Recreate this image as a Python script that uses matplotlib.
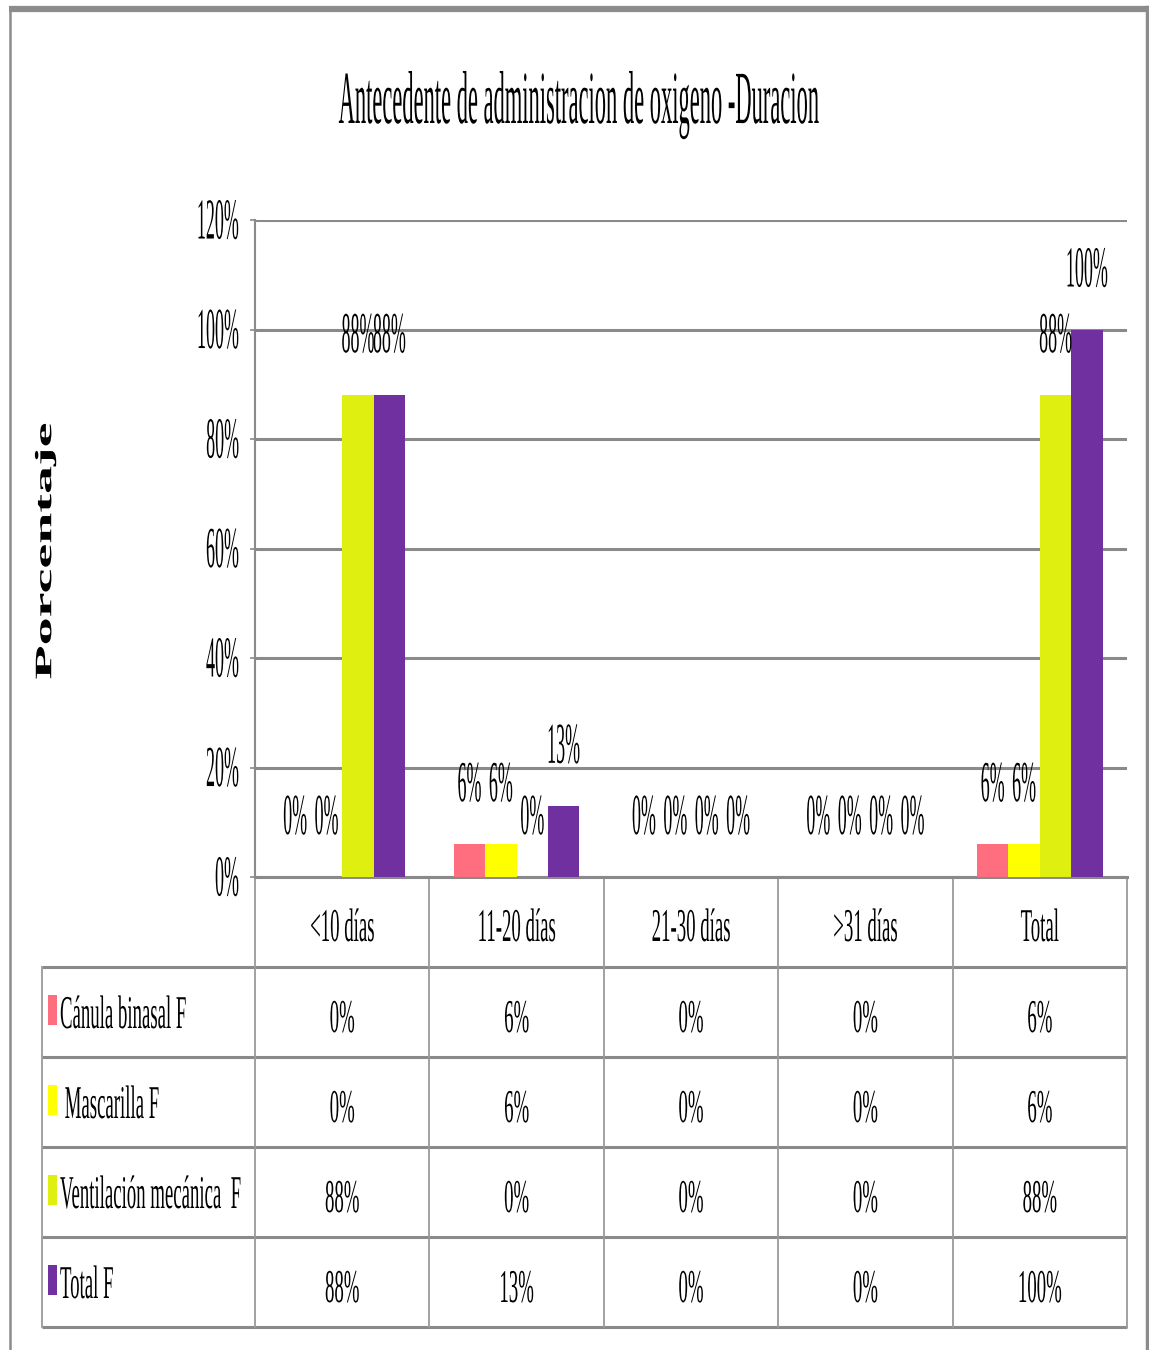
import matplotlib
matplotlib.use("Agg")
import matplotlib.pyplot as plt
from matplotlib.patheffects import AbstractPathEffect
from matplotlib.transforms import Affine2D, blended_transform_factory
from matplotlib.patches import Rectangle

# datos de la tabla / grafico
categorias = ['<10 días', '11-20 días', '21-30 días', '>31 días', 'Total']
series = ['Cánula binasal F', ' Mascarilla F', 'Ventilación mecánica  F', 'Total F']
canula = [0, 6, 0, 0, 6]
mascarilla = [0, 6, 0, 0, 6]
ventilacion = [88, 0, 0, 0, 88]
total = [88, 13, 0, 0, 100]
colores = ['#FF6E7E', '#FFFF00', '#DFEF10', '#7030A0']
y_ticks = [0, 20, 40, 60, 80, 100, 120]

valores = [canula, mascarilla, ventilacion, total]

W, H = 1149, 1350
FUENTE = 'Liberation Serif'
GRIS = '#8a8a8a'


class Stretch(AbstractPathEffect):
    """Estira el texto en vertical (letra estrecha y alta)."""

    def __init__(self, sx=1.0, sy=1.0, anchor_y='baseline', dy=0.0):
        super().__init__()
        self.sx, self.sy, self.anchor_y, self.dy = sx, sy, anchor_y, dy

    def draw_path(self, renderer, gc, tpath, affine, rgbFace=None):
        if len(tpath.vertices) == 0:
            return
        ext = tpath.get_extents()
        cx = (ext.x0 + ext.x1) / 2
        cy = 0.0 if self.anchor_y == 'baseline' else (ext.y0 + ext.y1) / 2
        t = Affine2D().translate(-cx, -cy).scale(self.sx, self.sy).translate(cx, cy)
        renderer.draw_path(gc, tpath, t + affine + Affine2D().translate(0, self.dy), rgbFace)


def px2pt(p):
    return p * 0.72


def texto_alto(em, f):
    # tamaño de letra y efecto para un texto de altura "em" px comprimido en ancho por f
    return px2pt(em * f), [Stretch(sy=1 / f)]


fig = plt.figure(figsize=(W / 100, H / 100), dpi=100)
fig.patch.set_facecolor('white')

# capa en pixeles para marco, titulo y tabla
ov = fig.add_axes([0, 0, 1, 1], zorder=-1)
ov.set_xlim(0, W)
ov.set_ylim(H, 0)
ov.axis('off')

x0, x1, y_top, y_bot = 255, 1127, 220, 877
ax = fig.add_axes([x0 / W, 1 - y_bot / H, (x1 - x0) / W, (y_bot - y_top) / H])

n = len(categorias)
ancho = 0.18
fs_lab, pe_lab = texto_alto(58, 0.31)
for i, (vals, col) in enumerate(zip(valores, colores)):
    xs = [c + (i - 1.5) * ancho for c in range(n)]
    ax.bar(xs, vals, width=ancho, color=col, zorder=3)
    for x, v in zip(xs, vals):
        ax.annotate(f"{v}%", xy=(x, v), xytext=(0, 43), textcoords='offset pixels',
                    ha='center', va='baseline', family=FUENTE, fontsize=fs_lab,
                    path_effects=pe_lab, zorder=4)

ax.set_xlim(-0.5, n - 0.5)
ax.set_ylim(0, 120)
ax.set_xticks([])
ax.set_yticks(y_ticks)
ax.set_yticklabels([f"{t}%" for t in y_ticks])
for lab in ax.get_yticklabels():
    lab.set_family(FUENTE)
    lab.set_fontsize(fs_lab)
    lab.set_path_effects([Stretch(sy=1 / 0.31, anchor_y='center', dy=1)])
ax.tick_params(axis='y', length=3.6, width=1.2, color=GRIS, pad=8)
ax.yaxis.grid(True, color=GRIS, lw=2.2)
ax.set_axisbelow(True)
for s in ['top', 'right']:
    ax.spines[s].set_visible(False)
ax.spines['left'].set_color(GRIS)
ax.spines['left'].set_linewidth(1.5)
ax.spines['bottom'].set_color(GRIS)
ax.spines['bottom'].set_linewidth(2.2)

# marco exterior
ov.plot([9, 1148], [9, 9], color='#8c8c8c', lw=4.5, solid_capstyle='butt')
ov.plot([10, 10], [7, H], color='#8c8c8c', lw=1.8)
ov.plot([1147, 1147], [7, H], color='#8c8c8c', lw=2.5)

# titulo y eje y
fs_tit, pe_tit = texto_alto(75, 0.30)
ov.text(579, 123, 'Antecedente de administracion de oxigeno -Duracion', ha='center', va='baseline',
        family=FUENTE, fontsize=fs_tit, path_effects=pe_tit)
ov.text(45, 551, 'Porcentaje', rotation=90, ha='center', va='center', family=FUENTE,
        fontweight='bold', fontsize=px2pt(56), path_effects=[Stretch(sy=0.42, anchor_y='center')])

# tabla de datos bajo el grafico
tr = blended_transform_factory(ax.transData, ov.transData)
fila = 90
y_fin = y_bot + (len(series) + 1) * fila
for k in range(1, len(series) + 2):
    y = y_bot + k * fila
    ov.plot([42, x1], [y, y], color=GRIS, lw=2.2, solid_capstyle='butt')
for c in range(n + 1):
    ov.plot([c - 0.5, c - 0.5], [y_bot, y_fin], color='#9a9a9a', lw=1.3, transform=tr)
ov.plot([42, 42], [y_bot + fila, y_fin], color='#9a9a9a', lw=1.3)

fs_tab, pe_tab = texto_alto(47, 0.40)
for c, cat in enumerate(categorias):
    ov.text(c, y_bot + 64, cat, transform=tr, ha='center', va='baseline', family=FUENTE,
            fontsize=fs_tab, path_effects=pe_tab)

for k, (nombre, vals, col) in enumerate(zip(series, valores, colores)):
    top = y_bot + (k + 1) * fila
    ov.add_patch(Rectangle((48, top + 28), 9, 30, color=col, lw=0))
    ov.text(60, top + 61, nombre, ha='left', va='baseline', family=FUENTE,
            fontsize=fs_tab, path_effects=pe_tab)
    for c, v in enumerate(vals):
        ov.text(c, top + 65, f"{v}%", transform=tr, ha='center', va='baseline',
                family=FUENTE, fontsize=fs_tab, path_effects=pe_tab)

fig.savefig('out.png', dpi=100)
